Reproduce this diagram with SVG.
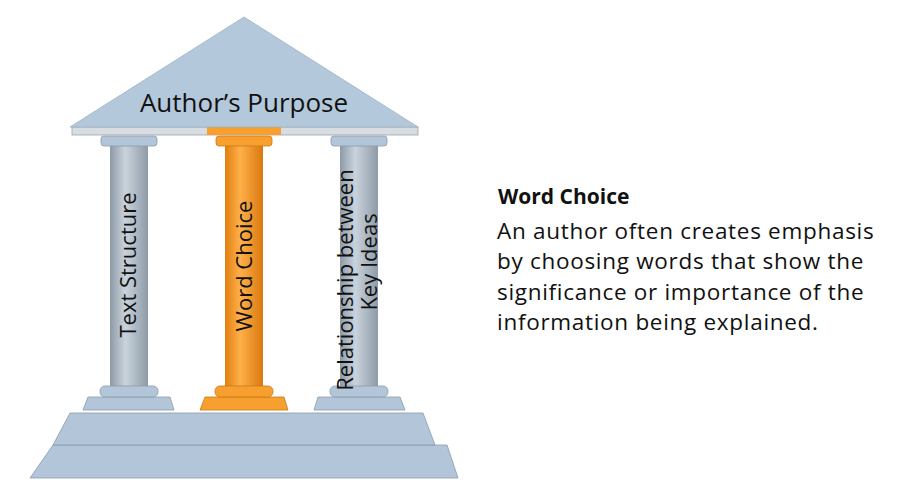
<svg xmlns="http://www.w3.org/2000/svg" width="900" height="500" viewBox="0 0 900 500">
<defs>
<linearGradient id="gs" x1="0" x2="1"><stop offset="0" stop-color="#8d9aa6"/><stop offset="0.4" stop-color="#c9d3dc"/><stop offset="1" stop-color="#8e9ba8"/></linearGradient>
<linearGradient id="os" x1="0" x2="1"><stop offset="0" stop-color="#e07f10"/><stop offset="0.4" stop-color="#ffb04a"/><stop offset="1" stop-color="#d9780c"/></linearGradient>
</defs>
<style>
.g{fill:#b3c6d9;stroke:#8a9aaa;stroke-width:0.8}
.o{fill:#f7a030;stroke:#c87a18;stroke-width:0.8}
.t{font-family:"Open Sans","Noto Sans",sans-serif;fill:#111}
</style>
<rect width="900" height="500" fill="#fff"/>
<polygon class="g" points="53,445 447,445 458,478 30,478"/>
<polygon class="g" points="70,413 423,413 435,445 53,445"/>
<polygon class="g" points="88,397 170,397 174,410 83,410"/>
<polygon class="o" points="205,397 284,397 288,410 200,410"/>
<polygon class="g" points="318,397 400,397 405,410 314,410"/>
<rect x="110" y="145" width="38" height="245" fill="url(#gs)"/>
<rect x="225" y="145" width="38" height="245" fill="url(#os)"/>
<rect x="340" y="145" width="38" height="245" fill="url(#gs)"/>
<rect x="100" y="386" width="58" height="11" rx="5" class="g"/>
<rect x="215" y="386" width="58" height="11" rx="5" class="o"/>
<rect x="330" y="386" width="58" height="11" rx="5" class="g"/>
<rect x="101" y="136" width="56" height="10" rx="3" class="g"/>
<rect x="216" y="136" width="56" height="10" rx="3" class="o"/>
<rect x="331" y="136" width="56" height="10" rx="3" class="g"/>
<rect x="72" y="127" width="346" height="8" fill="#d8dde2" stroke="#9aa6b0" stroke-width="0.8"/>
<rect x="207" y="127" width="74" height="8" fill="#f7a030"/>
<polygon points="244,17 418,127 70,127" fill="#b4c8dc" stroke="#9fb2c4" stroke-width="0.8"/>
<text class="t" x="244" y="112" font-size="26" text-anchor="middle">Author’s Purpose</text>
<text class="t" font-size="22" text-anchor="middle" transform="translate(136,265) rotate(-90)">Text Structure</text>
<text class="t" font-size="22" text-anchor="middle" transform="translate(252,266) rotate(-90)">Word Choice</text>
<text class="t" font-size="22" text-anchor="middle" transform="translate(353,280) rotate(-90)">Relationship between</text>
<text class="t" font-size="22" text-anchor="middle" transform="translate(377,262) rotate(-90)">Key Ideas</text>
<text class="t" x="498" y="204" font-size="21" font-weight="bold">Word Choice</text>
<g class="t" font-size="22.5" letter-spacing="0.7">
<text x="497" y="239">An author often creates emphasis</text>
<text x="497" y="269">by choosing words that show the</text>
<text x="497" y="300">significance or importance of the</text>
<text x="497" y="330">information being explained.</text>
</g>
</svg>
